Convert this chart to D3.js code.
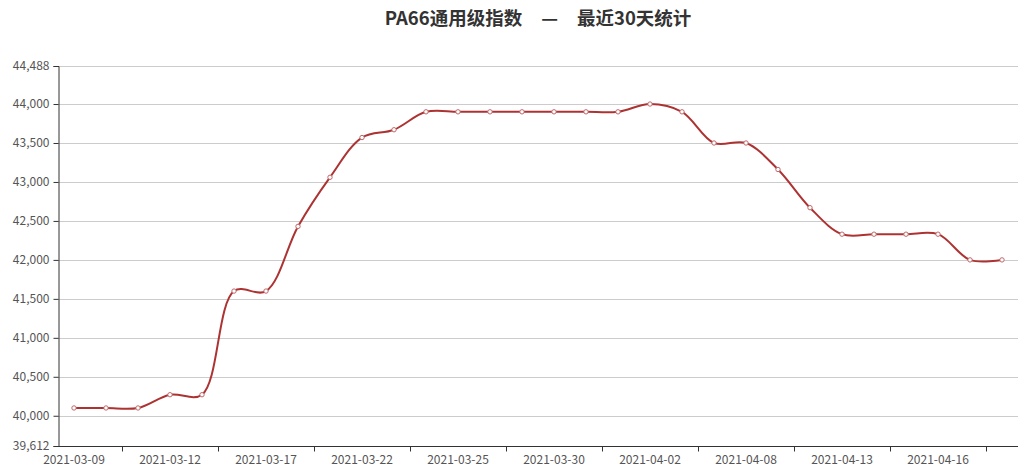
<!DOCTYPE html>
<html><head><meta charset="utf-8">
<script src="https://cdn.jsdelivr.net/npm/d3@7/dist/d3.min.js"></script>
<style>html,body{margin:0;padding:0;background:#fff;}svg{display:block;}</style>
</head><body>
<svg id="chart" width="1024" height="474"></svg>
<script>
const titleLeft = "PA66通用级指数";
const titleRight = "最近30天统计";
const dates = ["2021-03-09","2021-03-10","2021-03-11","2021-03-12","2021-03-15","2021-03-16","2021-03-17","2021-03-18","2021-03-19","2021-03-22","2021-03-23","2021-03-24","2021-03-25","2021-03-26","2021-03-29","2021-03-30","2021-03-31","2021-04-01","2021-04-02","2021-04-06","2021-04-07","2021-04-08","2021-04-09","2021-04-12","2021-04-13","2021-04-14","2021-04-15","2021-04-16","2021-04-19","2021-04-20"];
const values = [40100,40100,40100,40270,40270,41600,41600,42430,43060,43570,43670,43900,43900,43900,43900,43900,43900,43900,44000,43900,43500,43500,43160,42670,42330,42330,42330,42330,42000,42000];
const yDomain = [39612, 44488];
const yTicks = [39612,40000,40500,41000,41500,42000,42500,43000,43500,44000,44488];
const labelEvery = 3;

const svg = d3.select("#chart");
const m = {left:58, right:1018, top:66, bottom:446};
const font = "'Noto Sans CJK SC','Noto Sans',sans-serif";

const x = d3.scaleBand().domain(dates).range([m.left, m.right]);
const y = d3.scaleLinear().domain(yDomain).range([m.bottom, m.top]);
const fmt = d3.format(",");

const t = svg.append("text").attr("x", 538).attr("y", 25).attr("text-anchor","middle")
  .attr("font-family", font).attr("font-size", 18.5).attr("font-weight","bold")
  .attr("fill","#333");
t.append("tspan").text(titleLeft);
t.append("tspan").attr("dx", 19).text("—");
t.append("tspan").attr("dx", 19).text(titleRight);

// grid
svg.append("g").selectAll("line").data(yTicks.slice(1)).join("line")
  .attr("x1", m.left).attr("x2", m.right)
  .attr("y1", d=>Math.round(y(d))+0.5).attr("y2", d=>Math.round(y(d))+0.5)
  .attr("stroke","#ccc").attr("stroke-width",1);

// y axis
const yAxis = svg.append("g").attr("transform",`translate(${m.left+0.5},0)`)
  .call(d3.axisLeft(y).tickValues(yTicks).tickFormat(fmt).tickSize(5).tickPadding(4));
yAxis.select(".domain").attr("stroke","#333");
yAxis.selectAll(".tick line").attr("stroke","#333");
yAxis.selectAll("text").attr("font-family",font).attr("font-size",12).attr("fill","#555");

// x axis
const xAxis = svg.append("g").attr("transform",`translate(0,${m.bottom+0.5})`)
  .call(d3.axisBottom(x).tickValues(dates.filter((d,i)=>i%labelEvery===0)).tickSize(0).tickPadding(9));
xAxis.select(".domain").attr("stroke","#333").attr("d",`M${m.left},0H${m.right}`);
xAxis.selectAll("text").attr("font-family",font).attr("font-size",12).attr("fill","#555");
// tick marks at band boundaries
const tickIdx = d3.range(1, dates.length, labelEvery);
xAxis.append("g").selectAll("line").data(tickIdx).join("line")
  .attr("x1", i=>Math.round(x(dates[i])+x.bandwidth())+0.5)
  .attr("x2", i=>Math.round(x(dates[i])+x.bandwidth())+0.5)
  .attr("y1",0).attr("y2",5).attr("stroke","#333");

// line
const cx = d => x(d) + x.bandwidth()/2;
const line = d3.line().x((d,i)=>cx(dates[i])).y(d=>y(d)).curve(d3.curveCatmullRom.alpha(0.5));
svg.append("path").datum(values).attr("d", line)
  .attr("fill","none").attr("stroke","#ad3333").attr("stroke-width",2);

svg.append("g").selectAll("circle").data(values).join("circle")
  .attr("cx",(d,i)=>cx(dates[i])).attr("cy",d=>y(d)).attr("r",2.2)
  .attr("fill","#fff").attr("stroke","#c0686a").attr("stroke-width",1);
</script>
</body></html>
